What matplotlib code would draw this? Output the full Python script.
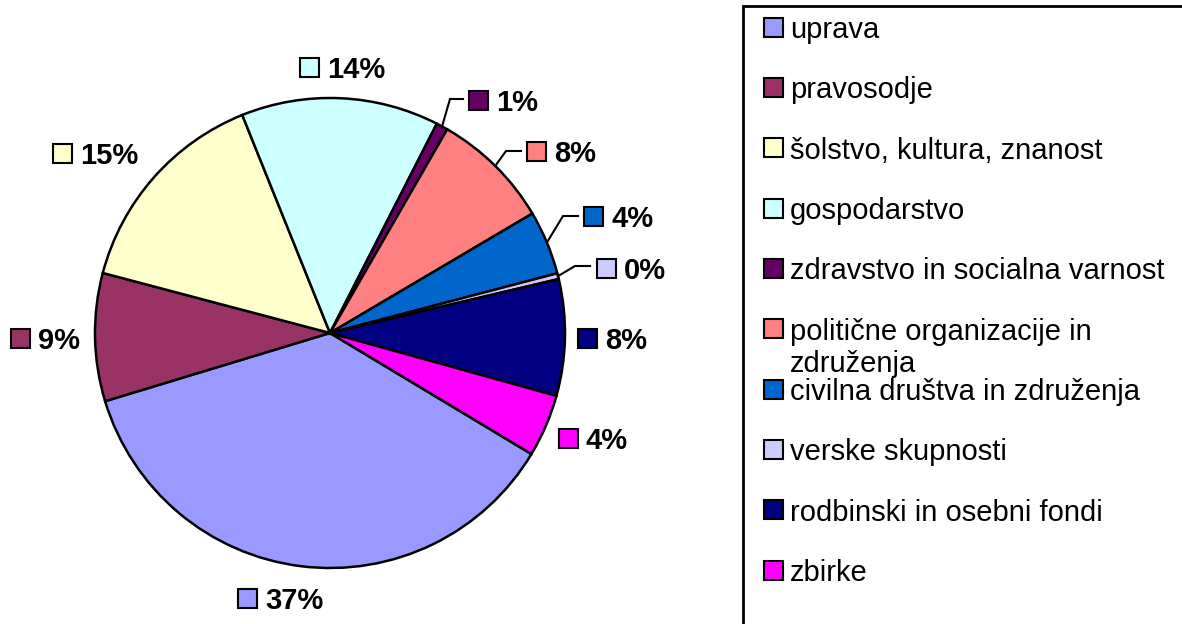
import matplotlib.pyplot as plt
from matplotlib.patches import Rectangle
import numpy as np

plt.rcParams['font.family'] = ['Liberation Sans', 'DejaVu Sans']

# Data (shares in %, legend order = slice order, clockwise)
categories = ['uprava', 'pravosodje', 'šolstvo, kultura, znanost', 'gospodarstvo',
              'zdravstvo in socialna varnost', 'politične organizacije in\nzdruženja',
              'civilna društva in združenja', 'verske skupnosti',
              'rodbinski in osebni fondi', 'zbirke']
shares = [36.7, 8.8, 14.8, 13.6, 0.8, 8.2, 4.4, 0.4, 8.0, 4.3]
colors = ['#9999FF', '#993366', '#FFFFCC', '#CCFFFF', '#660066',
          '#FF8080', '#0066CC', '#CCCCFF', '#000080', '#FF00FF']

W, H = 1182, 624
fig = plt.figure(figsize=(W / 100, H / 100), dpi=100)
ax = fig.add_axes([0, 0, 1, 1])

# pie in pixel-like coordinates (y measured from the bottom)
cx, cy, r = 330, H - 333, 235
wedges, _ = ax.pie(shares, colors=colors, startangle=-31, counterclock=False,
                   center=(cx, cy), radius=r, frame=True,
                   wedgeprops=dict(edgecolor='black', linewidth=1.8))
ax.set_xlim(0, W)
ax.set_ylim(0, H)
ax.axis('off')

# label layout: left edge of key square, vertical centre (pixels from top)
label_pos = [(238, 598), (11, 338), (53, 153), (300, 67), (469, 100),
             (527, 151), (584, 216), (597, 268), (578, 338), (559, 438)]
# leader lines for the small slices: elbow point, end point
leaders = {4: ((450, 99), (463, 99)),
           5: ((506, 151), (521, 151)),
           6: ((563, 216), (578, 216)),
           7: ((575, 266), (590, 266))}

sq = 19
for i, (w, v) in enumerate(zip(wedges, shares)):
    x0, yc = label_pos[i]
    ax.add_patch(Rectangle((x0, H - yc - sq / 2), sq, sq, facecolor=colors[i],
                           edgecolor='black', linewidth=1.5, zorder=5))
    ax.text(x0 + 27, H - yc, f'{int(v + 0.5)}%', ha='left', va='center_baseline',
            fontsize=21, fontweight='bold', color='black')
    if i in leaders:
        mid = np.deg2rad((w.theta1 + w.theta2) / 2)
        sx, sy = cx + r * np.cos(mid), cy + r * np.sin(mid)
        (ex, ey), (tx, ty) = leaders[i]
        ax.plot([sx, ex, tx], [sy, H - ey, H - ty], color='black', lw=1.5,
                solid_joinstyle='miter')

# legend box (runs off the right and bottom edges)
ax.add_patch(Rectangle((743, -20), 600, H - 6 + 20, fill=False,
                       edgecolor='black', linewidth=2))
for i, name in enumerate(categories):
    yc = 27 + 60.35 * i
    ax.add_patch(Rectangle((764, H - yc - sq / 2), sq, sq, facecolor=colors[i],
                           edgecolor='black', linewidth=1.5))
    for k, line in enumerate(name.split('\n')):
        ax.text(790, H - yc - 32 * k, line, ha='left', va='center_baseline',
                fontsize=21, color='black')

fig.savefig('out.png', dpi=100, facecolor='white')
